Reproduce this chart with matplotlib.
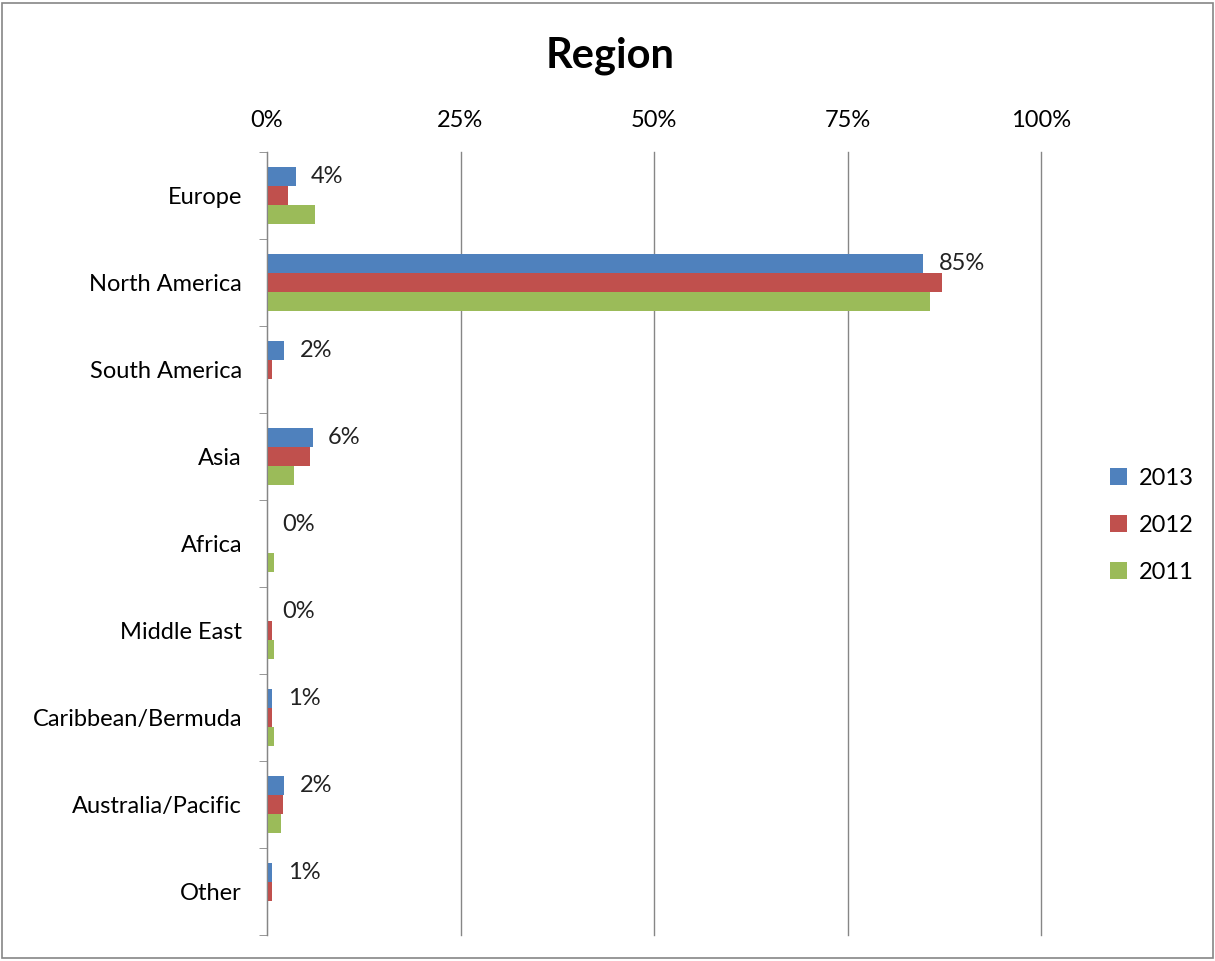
import matplotlib.pyplot as plt
import numpy as np
from matplotlib.patches import Rectangle

plt.rcParams['font.family'] = ['Lato', 'DejaVu Sans']

regions = ['Europe', 'North America', 'South America', 'Asia', 'Africa',
           'Middle East', 'Caribbean/Bermuda', 'Australia/Pacific', 'Other']
years = ['2013', '2012', '2011']
v2013 = [3.7, 84.8, 2.2, 5.9, 0.0, 0.0, 0.7, 2.2, 0.7]
v2012 = [2.75, 87.2, 0.7, 5.6, 0.0, 0.7, 0.7, 2.1, 0.7]
v2011 = [6.2, 85.7, 0.0, 3.5, 0.95, 0.95, 0.95, 1.8, 0.0]
colors = ['#4F81BD', '#C0504D', '#9BBB59']

fig = plt.figure(figsize=(12.15, 9.61), dpi=100)
ax = fig.add_axes([267 / 1215, 1 - 935 / 961, (1041 - 267) / 1215, (935 - 152) / 961])

y = np.arange(len(regions))
h = 0.22
for i, (vals, c, lab) in enumerate(zip([v2013, v2012, v2011], colors, years)):
    ax.barh(y - h + i * h, vals, height=h, color=c, label=lab)

# labels on 2013 series
for yi, v in zip(y, v2013):
    ax.text(v + 2.0, yi - h, f'{v:.0f}%', va='center', ha='left', fontsize=17, color='#222222')

ax.set_xlim(0, 100)
ax.set_ylim(len(regions) - 0.5, -0.5)
ax.xaxis.tick_top()
ax.set_xticks([0, 25, 50, 75, 100])
ax.set_xticklabels(['0%', '25%', '50%', '75%', '100%'])
ax.tick_params(axis='x', length=0, labelsize=17, pad=15)
ax.set_yticks(y)
ax.set_yticklabels(regions)
ax.tick_params(axis='y', length=0, labelsize=17, pad=18)
ax.set_yticks(np.arange(-0.5, len(regions), 1), minor=True)
ax.tick_params(axis='y', which='minor', length=6, color='#868686')
ax.grid(axis='x', color='#868686', linewidth=1)
for gl in ax.get_xgridlines():
    gl.set_clip_on(False)
ax.set_axisbelow(True)
for s in ['top', 'right', 'bottom']:
    ax.spines[s].set_visible(False)
ax.spines['left'].set_color('#868686')

fig.text(610 / 1215, 1 - 56 / 961, 'Region', ha='center', va='center',
         fontsize=30, fontweight='bold')

ax.legend(loc='center left', bbox_to_anchor=(1.062, 0.523), frameon=False,
          fontsize=17, handlelength=0.7, handleheight=0.7, labelspacing=1.1,
          handletextpad=0.5)

fig.patches.append(Rectangle((0.002, 0.003), 0.996, 0.994, transform=fig.transFigure,
                             fill=False, edgecolor='#868686', linewidth=1.2))

fig.savefig('out.png', dpi=100)
